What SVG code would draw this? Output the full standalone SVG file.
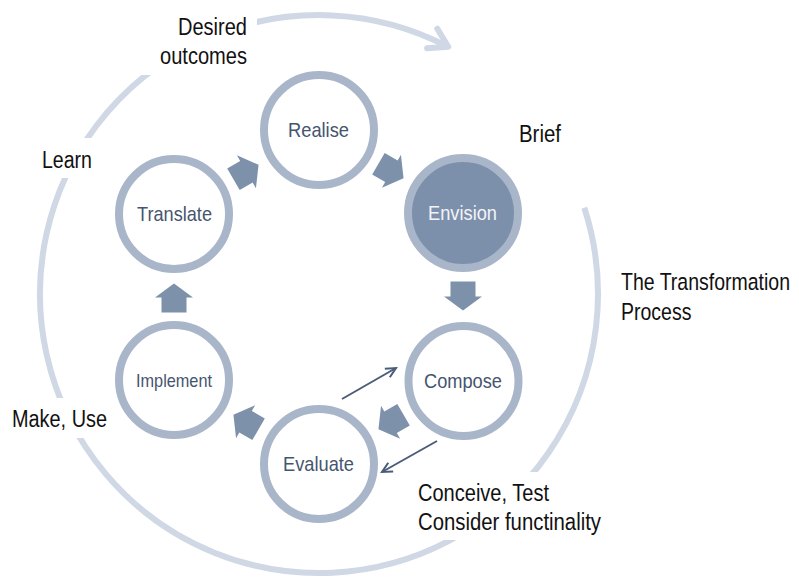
<svg xmlns="http://www.w3.org/2000/svg" xmlns:xlink="http://www.w3.org/1999/xlink" width="799" height="578" viewBox="0 0 799 578">
<style>
.ring{fill:#ffffff;stroke:#a9b6c9;stroke-width:8}
.ringdark{fill:#7d90ab;stroke:#a9b6c9;stroke-width:8}
.node{font-family:"Liberation Sans",Arial,sans-serif;font-size:21px;fill:#45556f}
.nodew{font-family:"Liberation Sans",Arial,sans-serif;font-size:21px;fill:#f2f4f8}
.lbl{font-family:"Liberation Sans",Arial,sans-serif;font-size:23.5px;fill:#111111}
.blk{fill:#7d91ab}
.thin{stroke:#4b5c78;stroke-width:2;fill:none}
.outer{fill:none;stroke:#cfd8e4;stroke-width:6}
</style>
<defs>
<polygon id="blk" points="-14.5,-12.5 0.5,-12.5 0.5,-19 14.5,0 0.5,19 0.5,12.5 -14.5,12.5"/>
<marker id="openbig" markerUnits="userSpaceOnUse" markerWidth="40" markerHeight="40" refX="0" refY="0" viewBox="-30 -20 40 40" orient="auto" overflow="visible">
<path d="M -18 -11 L 0 0 L -18 11" fill="none" stroke="#cfd8e4" stroke-width="6" stroke-linecap="round" stroke-linejoin="round"/>
</marker>
<marker id="thinhead" markerUnits="userSpaceOnUse" markerWidth="20" markerHeight="20" refX="0" refY="0" viewBox="-15 -10 20 20" orient="auto" overflow="visible">
<path d="M -10 -5 L 0 0 L -10 5" fill="none" stroke="#4b5c78" stroke-width="2"/>
</marker>
</defs>

<g id="outer-cycle">
<path class="outer" d="M 584.3 207.8 A 279 279 0 1 1 448.2 46.8" marker-end="url(#openbig)"/>
</g>

<g id="connectors">
<use xlink:href="#blk" class="blk" transform="translate(246,172) rotate(-30)"/>
<use xlink:href="#blk" class="blk" transform="translate(391,171) rotate(30)"/>
<use xlink:href="#blk" class="blk" transform="translate(463,296) rotate(90)"/>
<use xlink:href="#blk" class="blk" transform="translate(391,422) rotate(150)"/>
<use xlink:href="#blk" class="blk" transform="translate(246,422) rotate(210)"/>
<use xlink:href="#blk" class="blk" transform="translate(174,298) rotate(270)"/>
<line class="thin" x1="342" y1="399" x2="396" y2="368" marker-end="url(#thinhead)"/>
<line class="thin" x1="437" y1="441" x2="382" y2="472" marker-end="url(#thinhead)"/>
</g>

<g id="node-realise">
<circle class="ring" cx="319" cy="130" r="55"/>
<text class="node" x="288" y="137" textLength="61" lengthAdjust="spacingAndGlyphs">Realise</text>
</g>
<g id="node-envision">
<circle class="ringdark" cx="463" cy="213" r="55"/>
<text class="nodew" x="428" y="220" textLength="69" lengthAdjust="spacingAndGlyphs">Envision</text>
</g>
<g id="node-compose">
<circle class="ring" cx="463.5" cy="381" r="55"/>
<text class="node" x="424" y="388" textLength="78" lengthAdjust="spacingAndGlyphs">Compose</text>
</g>
<g id="node-evaluate">
<circle class="ring" cx="319" cy="464" r="55"/>
<text class="node" x="283" y="471" textLength="71" lengthAdjust="spacingAndGlyphs">Evaluate</text>
</g>
<g id="node-implement">
<circle class="ring" cx="174" cy="380" r="55"/>
<text class="node" x="136" y="387" textLength="76" lengthAdjust="spacingAndGlyphs" style="font-size:19px">Implement</text>
</g>
<g id="node-translate">
<circle class="ring" cx="174" cy="214" r="55"/>
<text class="node" x="137" y="221" textLength="75" lengthAdjust="spacingAndGlyphs">Translate</text>
</g>

<g id="label-desired">
<rect x="140" y="4" width="117" height="71" fill="#ffffff"/>
<text class="lbl" x="178" y="35" textLength="69" lengthAdjust="spacingAndGlyphs">Desired</text>
<text class="lbl" x="160" y="64" textLength="87" lengthAdjust="spacingAndGlyphs">outcomes</text>
</g>
<g id="label-learn">
<rect x="28" y="138" width="77" height="40" fill="#ffffff"/>
<text class="lbl" x="42" y="168" textLength="50" lengthAdjust="spacingAndGlyphs">Learn</text>
</g>
<g id="label-brief">
<text class="lbl" x="519" y="142" textLength="42" lengthAdjust="spacingAndGlyphs">Brief</text>
</g>
<g id="label-transformation">
<text class="lbl" transform="translate(621,290) scale(0.83,1)" x="0" y="0">The Transformation</text>
<text class="lbl" transform="translate(621,320) scale(0.83,1)" x="0" y="0">Process</text>
</g>
<g id="label-make">
<rect x="4" y="398" width="108" height="40" fill="#ffffff"/>
<text class="lbl" x="12" y="427" textLength="95" lengthAdjust="spacingAndGlyphs">Make, Use</text>
</g>
<g id="label-conceive">
<rect x="410" y="472" width="200" height="68" fill="#ffffff"/>
<text class="lbl" x="418" y="501" textLength="131" lengthAdjust="spacingAndGlyphs">Conceive, Test</text>
<text class="lbl" x="418" y="530" textLength="183" lengthAdjust="spacingAndGlyphs">Consider functinality</text>
</g>
</svg>
